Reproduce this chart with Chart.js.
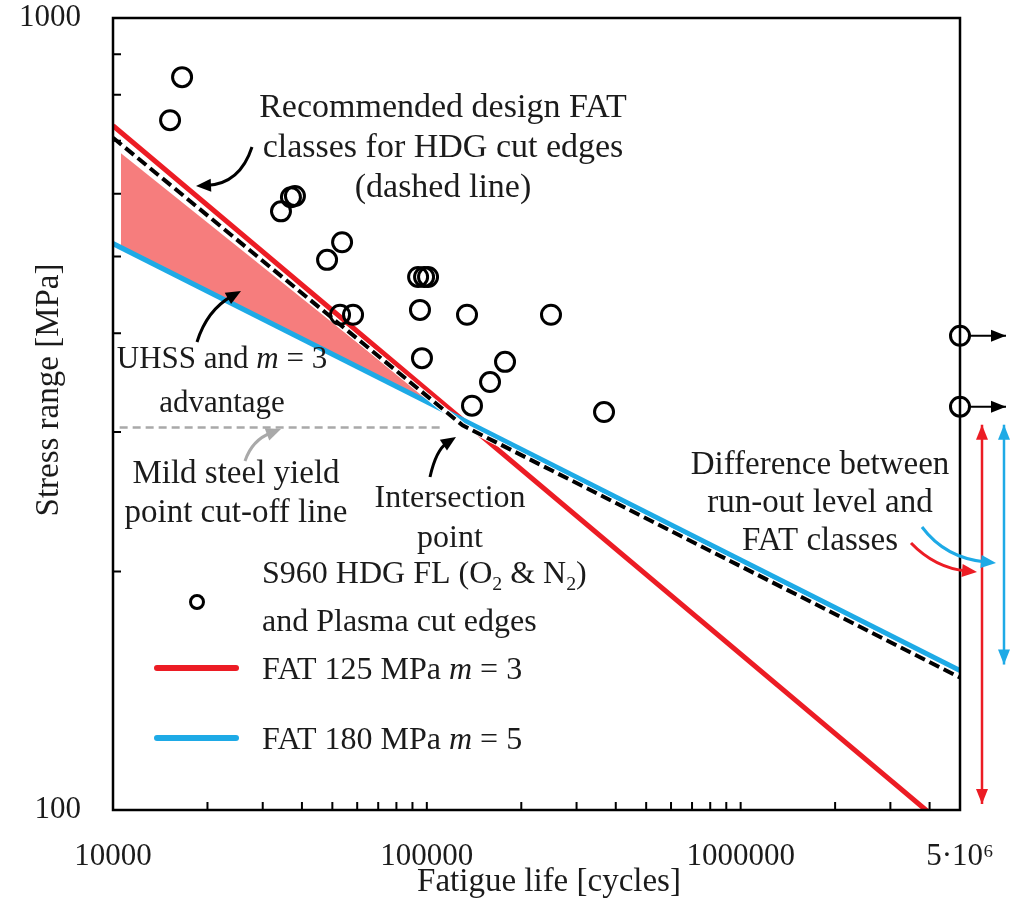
<!DOCTYPE html>
<html>
<head>
<meta charset="utf-8">
<script src="https://cdn.jsdelivr.net/npm/chart.js@4.4.1/dist/chart.umd.min.js"></script>
<style>
  html, body { margin: 0; padding: 0; background: #fff; }
  #wrap { width: 1020px; height: 899px; }
</style>
</head>
<body>
<div id="wrap"><canvas id="grafica" width="1020" height="899"></canvas></div>
<script>
// test results (cycles, MPa)
const testN = [16600, 15200, 34300, 36900, 38000, 53700, 48100, 93800, 98000, 100900,
               52900, 58200, 95100, 134300, 248700, 96500, 177500, 159000, 139300, 367000];
const testS = [842, 743, 570, 594, 596, 521, 495, 471, 471, 471,
               422, 422, 428, 422, 422, 372, 368, 347, 324, 318];
const runoutN = [5000000, 5000000];
const runoutS = [397, 323];

// S-N lines
const fat125N = [10000, 5000000];
const fat125S = [731, 92];
const fat180N = [10000, 5000000];
const fat180S = [519, 150];
const designN = [10000, 130000, 5000000];
const designS = [706, 306, 147];
const cutoffN = [10500, 111800];
const cutoffS = [304, 304];
const advN = [10600, 110000];
const advTopS = [675, 321];
const advBotS = [513, 321];

// axes
const xTickValues = [10000, 100000, 1000000, 5000000];
const xTickLabels = ['10000', '100000', '1000000', '5·10⁶'];
const xMinor = [20000, 30000, 40000, 50000, 60000, 70000, 80000, 90000, 100000,
                200000, 300000, 400000, 500000, 600000, 700000, 800000, 900000, 1000000,
                2000000, 3000000, 4000000];
const yTickValues = [100, 1000];
const yTickLabels = ['100', '1000'];
const yMinor = [200, 300, 400, 500, 600, 700, 800, 900];

const FONT = '"Liberation Serif", "Times New Roman", serif';
const RED = '#ec1c24';
const BLUE = '#1eaae6';
const PINK = '#f67d7d';
const GREY = '#a9a9a9';
const INK = '#1b1b1b';

function pts(xs, ys) {
    return xs.map((x, i) => ({ x: x, y: ys[i] }));
}

function arrowHead(ctx, x, y, ang, len, wid, color) {
    ctx.save();
    ctx.translate(x, y);
    ctx.rotate(ang);
    ctx.beginPath();
    ctx.moveTo(0, 0);
    ctx.lineTo(-len, wid / 2);
    ctx.lineTo(-len, -wid / 2);
    ctx.closePath();
    ctx.fillStyle = color;
    ctx.fill();
    ctx.restore();
}

function curvedArrow(ctx, a, c, b, color) {
    const ang = Math.atan2(b[1] - c[1], b[0] - c[0]);
    const len = 15;
    const ex = b[0] - Math.cos(ang) * len * 0.7;
    const ey = b[1] - Math.sin(ang) * len * 0.7;
    ctx.beginPath();
    ctx.moveTo(a[0], a[1]);
    ctx.quadraticCurveTo(c[0], c[1], ex, ey);
    ctx.strokeStyle = color;
    ctx.lineWidth = 3;
    ctx.stroke();
    arrowHead(ctx, b[0], b[1], ang, len, 13, color);
}

function straightArrow(ctx, x0, y0, x1, y1, color, lw, twoHeads) {
    const ang = Math.atan2(y1 - y0, x1 - x0);
    ctx.beginPath();
    ctx.moveTo(x0, y0);
    ctx.lineTo(x1, y1);
    ctx.strokeStyle = color;
    ctx.lineWidth = lw;
    ctx.stroke();
    arrowHead(ctx, x1, y1, ang, 15, 12, color);
    if (twoHeads) arrowHead(ctx, x0, y0, ang + Math.PI, 15, 12, color);
}

// parts: [text, style] with style '', 'i' (italic) or 's' (subscript)
function richText(ctx, parts, x, y, size, align) {
    const fontFor = s => (s === 'i' ? 'italic ' : '') + (s === 's' ? size * 0.62 : size) + 'px ' + FONT;
    let w = 0;
    parts.forEach(p => { ctx.font = fontFor(p[1]); w += ctx.measureText(p[0]).width; });
    let cx = align === 'center' ? x - w / 2 : x;
    ctx.textAlign = 'left';
    ctx.textBaseline = 'alphabetic';
    ctx.fillStyle = INK;
    parts.forEach(p => {
        ctx.font = fontFor(p[1]);
        ctx.fillText(p[0], cx, p[1] === 's' ? y + size * 0.22 : y);
        cx += ctx.measureText(p[0]).width;
    });
}

function lines(ctx, arr, x, y0, step, size) {
    arr.forEach((t, i) => richText(ctx, typeof t === 'string' ? [[t, '']] : t, x, y0 + i * step, size, 'center'));
}

const decor = {
    id: 'decor',
    afterDraw(chart) {
        const ctx = chart.ctx;
        const a = chart.chartArea;
        const xs = chart.scales.x, ys = chart.scales.y;
        ctx.save();

        // inward minor ticks
        ctx.strokeStyle = '#000';
        ctx.lineWidth = 2;
        ctx.beginPath();
        xMinor.forEach(v => {
            const px = xs.getPixelForValue(v);
            ctx.moveTo(px, a.bottom);
            ctx.lineTo(px, a.bottom - 8);
        });
        yMinor.forEach(v => {
            const py = ys.getPixelForValue(v);
            ctx.moveTo(a.left, py);
            ctx.lineTo(a.left + 8, py);
        });
        ctx.stroke();

        // frame
        ctx.lineWidth = 2.5;
        ctx.strokeRect(a.left, a.top, a.right - a.left, a.bottom - a.top);

        // axis titles
        ctx.fillStyle = INK;
        ctx.font = '33px ' + FONT;
        ctx.textAlign = 'center';
        ctx.textBaseline = 'alphabetic';
        ctx.fillText('Fatigue life [cycles]', 549, 891);
        ctx.save();
        ctx.translate(58, 390);
        ctx.rotate(-Math.PI / 2);
        ctx.fillText('Stress range [MPa]', 0, 0);
        ctx.restore();

        // run-out arrows
        const xr = xs.getPixelForValue(runoutN[0]);
        runoutS.forEach(s => {
            const py = ys.getPixelForValue(s);
            straightArrow(ctx, xr + 10, py, xr + 46, py, '#000', 2, false);
        });

        // difference arrows
        const topY = ys.getPixelForValue(runoutS[1]) + 18;
        straightArrow(ctx, xr + 22, topY, xr + 22, a.bottom - 6, RED, 2.5, true);
        straightArrow(ctx, xr + 44, topY, xr + 44, ys.getPixelForValue(fat180S[1]) - 6, BLUE, 2.5, true);

        // annotations
        lines(ctx, ['Recommended design FAT', 'classes for HDG cut edges', '(dashed line)'], 443, 117, 40, 34);
        curvedArrow(ctx, [252, 147], [240, 184], [196, 186], '#000');

        lines(ctx, [[['UHSS and ', ''], ['m', 'i'], [' = 3', '']], 'advantage'], 222, 368, 44, 31);
        curvedArrow(ctx, [197, 342], [207, 310], [241, 291], '#000');

        lines(ctx, ['Mild steel yield', 'point cut-off line'], 236, 483, 39, 33);
        curvedArrow(ctx, [245, 461], [252, 440], [281, 429], GREY);

        lines(ctx, ['Intersection', 'point'], 450, 507, 40, 32);
        curvedArrow(ctx, [430, 477], [436, 450], [456, 437], '#000');

        lines(ctx, ['Difference between', 'run-out level and', 'FAT classes'], 820, 474, 38, 33);
        curvedArrow(ctx, [911, 543], [935, 568], [977, 572], RED);
        curvedArrow(ctx, [922, 527], [945, 558], [996, 563], BLUE);

        // legend
        ctx.beginPath();
        ctx.arc(197, 602, 6.5, 0, Math.PI * 2);
        ctx.lineWidth = 3;
        ctx.strokeStyle = '#000';
        ctx.stroke();
        richText(ctx, [['S960 HDG FL (O', ''], ['2', 's'], [' & N', ''], ['2', 's'], [')', '']], 262, 583, 32, 'left');
        richText(ctx, [['and Plasma cut edges', '']], 262, 631, 32, 'left');
        ctx.lineWidth = 6;
        ctx.lineCap = 'round';
        ctx.strokeStyle = RED;
        ctx.beginPath(); ctx.moveTo(157, 668); ctx.lineTo(236, 668); ctx.stroke();
        ctx.strokeStyle = BLUE;
        ctx.beginPath(); ctx.moveTo(157, 738); ctx.lineTo(236, 738); ctx.stroke();
        richText(ctx, [['FAT 125 MPa ', ''], ['m', 'i'], [' = 3', '']], 262, 679, 32, 'left');
        richText(ctx, [['FAT 180 MPa ', ''], ['m', 'i'], [' = 5', '']], 262, 749, 32, 'left');

        ctx.restore();
    }
};

const ctx = document.getElementById('grafica').getContext('2d');
new Chart(ctx, {
    type: 'line',
    data: {
        datasets: [
            {
                label: 'S960 HDG FL and Plasma cut edges',
                data: pts(testN.concat(runoutN), testS.concat(runoutS)),
                showLine: false,
                pointRadius: 9.5,
                pointBorderWidth: 3,
                pointBorderColor: '#000',
                pointBackgroundColor: 'rgba(0,0,0,0)',
                clip: false,
                order: 0
            },
            {
                label: 'Recommended design FAT',
                data: pts(designN, designS),
                borderColor: '#000',
                borderWidth: 4,
                borderDash: [11, 5],
                pointRadius: 0,
                order: 1
            },
            {
                label: 'design underlay',
                data: pts(designN, designS),
                borderColor: '#fff',
                borderWidth: 6,
                pointRadius: 0,
                order: 2
            },
            {
                label: 'FAT 180 MPa m = 5',
                data: pts(fat180N, fat180S),
                borderColor: BLUE,
                borderWidth: 5,
                pointRadius: 0,
                order: 3
            },
            {
                label: 'FAT 125 MPa m = 3',
                data: pts(fat125N, fat125S),
                borderColor: RED,
                borderWidth: 5,
                pointRadius: 0,
                order: 4
            },
            {
                label: 'Mild steel yield',
                data: pts(cutoffN, cutoffS),
                borderColor: GREY,
                borderWidth: 2.5,
                borderDash: [8, 5],
                pointRadius: 0,
                order: 5
            },
            {
                label: 'advantage',
                data: pts(advN, advTopS),
                borderWidth: 0,
                pointRadius: 0,
                backgroundColor: PINK,
                fill: '+1',
                order: 6
            },
            {
                label: 'advantage base',
                data: pts(advN, advBotS),
                borderWidth: 0,
                pointRadius: 0,
                order: 7
            }
        ]
    },
    options: {
        responsive: false,
        animation: false,
        devicePixelRatio: 1,
        events: [],
        layout: { padding: { top: 18, right: 60, left: 0, bottom: 0 } },
        plugins: {
            legend: { display: false },
            tooltip: { enabled: false }
        },
        scales: {
            x: {
                type: 'logarithmic',
                min: 10000,
                max: 5000000,
                grid: { display: false },
                border: { display: false },
                afterBuildTicks: s => { s.ticks = xTickValues.map(v => ({ value: v })); },
                afterFit: s => { s.height = 89; s.paddingLeft = 0; s.paddingRight = 0; },
                ticks: {
                    autoSkip: false,
                    maxRotation: 0,
                    padding: 20,
                    color: INK,
                    font: { family: FONT, size: 31 },
                    callback: (v, i) => xTickLabels[i]
                }
            },
            y: {
                type: 'logarithmic',
                min: 100,
                max: 1000,
                grid: { display: false },
                border: { display: false },
                afterBuildTicks: s => { s.ticks = yTickValues.map(v => ({ value: v })); },
                afterFit: s => { s.width = 113; s.paddingTop = 0; s.paddingBottom = 0; },
                ticks: {
                    autoSkip: false,
                    padding: 24,
                    color: INK,
                    font: { family: FONT, size: 31 },
                    callback: (v, i) => yTickLabels[i]
                }
            }
        }
    },
    plugins: [decor]
});
</script>
</body>
</html>
